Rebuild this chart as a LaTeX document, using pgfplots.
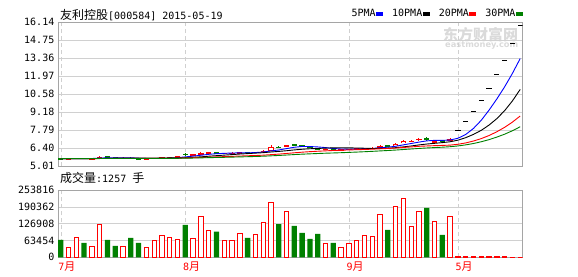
\documentclass[border=0pt]{standalone}
\usepackage{pgfplots}
\pgfplotsset{compat=1.18}
\usepackage{pgfplotstable}
\usepackage{fontspec}
\setmainfont{DejaVu Sans Mono}
\newfontfamily\cjk{Noto Sans CJK SC}
\newfontfamily\dejavu{DejaVu Sans}

\definecolor{cred}{RGB}{255,0,0}
\definecolor{cgreen}{RGB}{0,128,0}
\definecolor{cblue}{RGB}{0,0,255}
\definecolor{cborder}{RGB}{165,165,165}
\definecolor{cgrid}{RGB}{208,208,208}
\definecolor{cwater}{RGB}{218,218,218}

% red (close >= open) candles
\pgfplotstableread{
i o h l c
2 5.53 5.60 5.50 5.58
3 5.57 5.66 5.55 5.63
5 5.56 5.62 5.54 5.60
6 5.60 5.78 5.58 5.72
9 5.60 5.67 5.58 5.64
12 5.54 5.59 5.52 5.57
13 5.57 5.64 5.55 5.62
14 5.61 5.68 5.60 5.66
15 5.65 5.73 5.64 5.70
16 5.69 5.76 5.68 5.73
18 5.85 5.95 5.83 5.92
19 5.90 6.08 5.88 6.00
20 5.98 6.10 5.96 6.05
22 5.96 6.03 5.94 6.00
23 5.99 6.06 5.97 6.03
24 6.01 6.10 6.00 6.08
26 6.04 6.13 6.03 6.10
27 6.10 6.24 6.08 6.20
28 6.20 6.62 6.18 6.45
30 6.55 6.66 6.48 6.58
35 6.28 6.36 6.26 6.33
37 6.26 6.33 6.24 6.30
38 6.29 6.36 6.27 6.33
39 6.33 6.40 6.31 6.37
40 6.36 6.44 6.34 6.40
41 6.38 6.45 6.36 6.42
42 6.45 6.62 6.43 6.58
44 6.56 6.78 6.54 6.72
45 6.78 7.00 6.75 6.95
46 6.92 7.05 6.85 6.95
47 7.00 7.20 6.96 7.12
49 6.88 6.98 6.85 6.92
51 7.00 7.15 6.96 7.08
}\upT

% green (close < open) candles
\pgfplotstableread{
i o h l c
1 5.62 5.65 5.52 5.55
4 5.64 5.66 5.56 5.58
7 5.74 5.76 5.65 5.68
8 5.67 5.69 5.60 5.62
10 5.66 5.67 5.56 5.58
11 5.59 5.61 5.52 5.55
17 5.95 5.98 5.80 5.86
21 6.06 6.08 5.96 5.98
25 6.09 6.11 6.01 6.04
29 6.47 6.55 6.38 6.45
31 6.65 6.72 6.55 6.62
32 6.60 6.63 6.48 6.50
33 6.50 6.53 6.40 6.42
34 6.40 6.42 6.28 6.30
36 6.33 6.35 6.25 6.27
43 6.58 6.63 6.50 6.55
48 7.18 7.22 6.98 7.02
50 6.98 7.02 6.90 6.95
}\downT

% one-price limit-up days
\pgfplotstableread{
i c
52 7.79
53 8.48
54 9.26
55 10.10
56 11.00
57 12.10
58 13.17
59 14.45
60 15.84
}\flatT

% moving averages
\pgfplotstableread{
i m5 m10 m20 m30
1 5.574 5.577 5.579 5.579
2 5.574 5.577 5.579 5.579
3 5.584 5.582 5.581 5.581
4 5.584 5.582 5.581 5.581
5 5.588 5.584 5.582 5.581
6 5.622 5.598 5.589 5.586
7 5.642 5.608 5.594 5.589
8 5.640 5.612 5.596 5.591
9 5.652 5.618 5.599 5.593
10 5.648 5.618 5.599 5.593
11 5.614 5.618 5.598 5.592
12 5.592 5.617 5.597 5.591
13 5.592 5.616 5.599 5.593
14 5.596 5.624 5.603 5.595
15 5.620 5.634 5.609 5.599
16 5.656 5.635 5.617 5.604
17 5.714 5.653 5.631 5.614
18 5.774 5.683 5.648 5.625
19 5.842 5.719 5.669 5.639
20 5.912 5.766 5.692 5.655
21 5.962 5.809 5.714 5.668
22 5.990 5.852 5.735 5.682
23 6.012 5.893 5.755 5.697
24 6.028 5.935 5.780 5.714
25 6.026 5.969 5.802 5.729
26 6.050 6.006 5.821 5.746
27 6.090 6.040 5.847 5.767
28 6.174 6.093 5.888 5.796
29 6.248 6.138 5.929 5.825
30 6.356 6.191 5.979 5.858
31 6.460 6.255 6.032 5.894
32 6.520 6.305 6.079 5.925
33 6.514 6.344 6.119 5.951
34 6.484 6.366 6.151 5.975
35 6.434 6.395 6.182 5.999
36 6.364 6.412 6.209 6.018
37 6.324 6.422 6.231 6.038
38 6.306 6.410 6.252 6.062
39 6.320 6.402 6.270 6.086
40 6.334 6.384 6.288 6.114
41 6.364 6.364 6.310 6.143
42 6.420 6.372 6.339 6.176
43 6.464 6.385 6.365 6.207
44 6.534 6.427 6.397 6.243
45 6.644 6.489 6.442 6.284
46 6.750 6.557 6.485 6.325
47 6.858 6.639 6.531 6.367
48 6.952 6.708 6.559 6.404
49 6.992 6.763 6.583 6.434
50 6.992 6.818 6.601 6.464
51 7.018 6.884 6.624 6.501
52 7.152 7.005 6.689 6.561
53 7.444 7.198 6.792 6.642
54 7.912 7.452 6.940 6.748
55 8.542 7.767 7.128 6.884
56 9.326 8.172 7.365 7.047
57 10.188 8.670 7.655 7.244
58 11.126 9.285 7.997 7.468
59 12.164 10.038 8.401 7.734
60 13.312 10.927 8.873 8.043
}\maT

% volume, red days
\pgfplotstableread{
i v
2 37700
3 75400
5 41500
6 125600
9 41500
12 37700
13 65300
14 82900
15 75400
16 67900
18 71600
19 154500
20 103000
22 65300
23 65300
24 91700
26 88000
27 133200
28 207300
30 173400
35 54000
37 39000
38 54000
39 65300
40 84200
41 80400
42 163300
44 193500
45 223700
46 118100
47 174700
49 137000
51 155800
52 3500
53 2200
54 1900
55 1700
56 1600
57 1500
58 1400
59 1300
60 1257
}\volR

% volume, green days
\pgfplotstableread{
i v
1 65300
4 54000
7 65300
8 42700
10 72900
11 54000
17 121900
21 96800
25 72900
29 125600
31 118100
32 91700
33 69100
34 88000
36 54000
43 103000
48 186000
50 84200
}\volG

\pgfplotsset{
  kstyle/.style={
    width=464.5pt, scale only axis,
    xmin=0.65, xmax=60.3,
    axis line style={draw=cborder, line width=0.9pt},
    major tick length=0pt,
    xtick={1,17,38,52},
    xmajorgrids, ymajorgrids,
    x grid style={draw=cgrid, dash pattern=on 4pt off 3pt},
    y grid style={draw=cgrid},
    scaled y ticks=false,
    yticklabel style={font=\fontsize{10}{10}\selectfont, anchor=east, inner sep=0pt, xshift=-3.5pt},
    /pgf/number format/assume math mode=true,
  },
  candle/.style 2 args={forget plot, draw=none, mark=none,
    error bars/.cd, y dir=both, y explicit, error mark=none,
    error bar style={draw=#1, solid, line width=#2}},
}

\begin{document}
\begin{tikzpicture}
\path[use as bounding box] (0pt,0pt) rectangle (578pt,-276pt);

% watermark
\node[anchor=west, inner sep=0pt, text=cwater, font=\cjk\bfseries\fontsize{15}{15}\selectfont] at (443pt,-34.5pt) {东方财富网};
\node[anchor=west, inner sep=0pt, text=cwater, font=\dejavu\bfseries\fontsize{8.3}{9}\selectfont] at (445pt,-45.5pt) {eastmoney.com};

% title
\node[anchor=west, inner sep=0pt, font=\fontsize{10}{10}\selectfont] at (60pt,-15pt) {{\cjk\fontsize{12}{12}\selectfont 友利控股}[000584] 2015-05-19};

% price panel
\begin{axis}[
  kstyle,
  at={(58pt,-166pt)}, anchor=south west,
  height=144pt,
  ymin=5.01, ymax=16.14,
  xticklabels={},
  ytick={5.01,6.40,7.79,9.18,10.58,11.97,13.36,14.75,16.14},
  yticklabels={5.01,6.40,7.79,9.18,10.58,11.97,13.36,14.75,16.14},
  legend plot pos=right,
  legend columns=-1,
  legend image code/.code={\fill (0pt,-1.6pt) rectangle (6pt,1.6pt);},
  legend style={at={(0.631,1.0556)}, anchor=west, draw=none, fill=none,
    inner sep=0pt, font=\fontsize{10}{10}\selectfont,
    nodes={inner xsep=0.3pt, inner ysep=0pt},
    /tikz/every even column/.append style={column sep=9pt}},
]
% wicks
\addplot[candle={cred}{0.9pt}]
  table[x=i, y expr={(\thisrow{h}+\thisrow{l})/2}, y error expr={(\thisrow{h}-\thisrow{l})/2}] {\upT};
\addplot[candle={cgreen}{0.9pt}]
  table[x=i, y expr={(\thisrow{h}+\thisrow{l})/2}, y error expr={(\thisrow{h}-\thisrow{l})/2}] {\downT};
% bodies
\addplot[candle={cgreen}{5.3pt}]
  table[x=i, y expr={(\thisrow{o}+\thisrow{c})/2}, y error expr={max(abs(\thisrow{o}-\thisrow{c})/2,0.04)}] {\downT};
\addplot[candle={cred}{5.3pt}]
  table[x=i, y expr={(\thisrow{o}+\thisrow{c})/2}, y error expr={max(abs(\thisrow{c}-\thisrow{o})/2,0.04)}] {\upT};
\addplot[candle={white}{3.3pt}]
  table[x=i, y expr={(\thisrow{o}+\thisrow{c})/2}, y error expr={max(abs(\thisrow{c}-\thisrow{o})/2-0.077,0)}] {\upT};
% one-price days
\addplot[forget plot, draw=none, mark=none,
  error bars/.cd, x dir=both, x fixed=0.34, error mark=none,
  error bar style={draw=black, solid, line width=1pt}]
  table[x=i, y=c] {\flatT};
% moving averages
\addplot[cblue, line width=0.9pt, mark=none] table[x=i, y=m5] {\maT};
\addlegendentry{5PMA}
\addplot[black, line width=0.9pt, mark=none] table[x=i, y=m10] {\maT};
\addlegendentry{10PMA}
\addplot[cred, line width=0.9pt, mark=none] table[x=i, y=m20] {\maT};
\addlegendentry{20PMA}
\addplot[cgreen, line width=0.9pt, mark=none] table[x=i, y=m30] {\maT};
\addlegendentry{30PMA}
\end{axis}

% volume caption
\node[anchor=west, inner sep=0pt, font=\fontsize{10}{10}\selectfont] at (60pt,-178pt) {{\cjk\fontsize{12}{12}\selectfont 成交量}:1257 {\cjk\fontsize{12}{12}\selectfont 手}};

% volume panel
\begin{axis}[
  kstyle,
  at={(58pt,-257.3pt)}, anchor=south west,
  height=67.3pt,
  ymin=0, ymax=253816,
  xticklabels={7{\cjk\fontsize{11}{11}\selectfont 月},8{\cjk\fontsize{11}{11}\selectfont 月},9{\cjk\fontsize{11}{11}\selectfont 月},5{\cjk\fontsize{11}{11}\selectfont 月}},
  xticklabel style={text=cred, anchor=north west, inner sep=0pt, xshift=-2.5pt, yshift=-4.5pt, font=\fontsize{10}{10}\selectfont},
  ytick={0,63454,126908,190362,253816},
  yticklabels={0,63454,126908,190362,253816},
  ybar=0pt,
]
\addplot[bar shift=0pt, bar width=5.3pt, draw=none, fill=cgreen] table[x=i, y=v] {\volG};
\addplot[bar shift=0pt, bar width=4.4pt, draw=cred, fill=white, line width=0.9pt] table[x=i, y=v] {\volR};
\end{axis}
\end{tikzpicture}
\end{document}
